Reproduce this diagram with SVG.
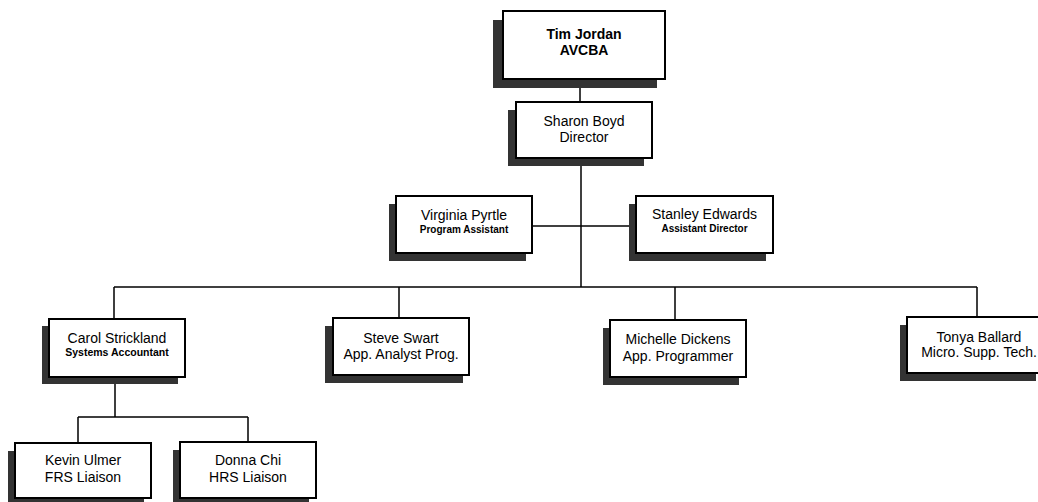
<svg xmlns="http://www.w3.org/2000/svg" width="1038" height="502" viewBox="0 0 1038 502">
<style>
.bg{fill:#fff}
.sh{fill:#333}
.bx{fill:#fff;stroke:#000;stroke-width:2}
.c{stroke:#000;stroke-width:1.5;fill:none}
text{font-family:"Liberation Sans",Arial,sans-serif;fill:#000;text-anchor:middle}
.n{font-size:14px}
.b{font-size:14px;font-weight:bold}
.s{font-size:10px;font-weight:bold}
</style>
<rect class="bg" x="0" y="0" width="1038" height="502"/>
<g id="connectors">
<path class="c" d="M580 79V102"/>
<path class="c" d="M581 158V287"/>
<path class="c" d="M532 226H636"/>
<path class="c" d="M114 287H977"/>
<path class="c" d="M114 287V319M399 287V318M675 287V320M977 287V317"/>
<path class="c" d="M115 377V417M78 417H248M78 417V443M248 417V442"/>
</g>
<g id="tim">
<rect class="sh" x="493" y="20" width="164" height="68"/>
<rect class="bx" x="503" y="11" width="162" height="68"/>
<text class="b" x="584" y="39">Tim Jordan</text>
<text class="b" x="584" y="55">AVCBA</text>
</g>
<g id="sharon">
<rect class="sh" x="508" y="110" width="136" height="56"/>
<rect class="bx" x="516" y="102" width="136" height="56"/>
<text class="n" x="584" y="126">Sharon Boyd</text>
<text class="n" x="584" y="142">Director</text>
</g>
<g id="virginia">
<rect class="sh" x="389" y="204" width="137" height="57"/>
<rect class="bx" x="396" y="196" width="136" height="57"/>
<text class="n" x="464" y="220">Virginia Pyrtle</text>
<text class="s" x="464" y="233">Program Assistant</text>
</g>
<g id="stanley">
<rect class="sh" x="629" y="204" width="137" height="57"/>
<rect class="bx" x="636" y="196" width="137" height="57"/>
<text class="n" x="704.5" y="219">Stanley Edwards</text>
<text class="s" x="704.5" y="232">Assistant Director</text>
</g>
<g id="carol">
<rect class="sh" x="42" y="326" width="136" height="58"/>
<rect class="bx" x="49" y="319" width="136" height="58"/>
<text class="n" x="117" y="343">Carol Strickland</text>
<text class="s" x="117" y="356" style="font-size:10.5px">Systems Accountant</text>
</g>
<g id="steve">
<rect class="sh" x="325" y="326" width="138" height="57"/>
<rect class="bx" x="333" y="318" width="136" height="57"/>
<text class="n" x="401" y="343">Steve Swart</text>
<text class="n" x="401" y="359">App. Analyst Prog.</text>
</g>
<g id="michelle">
<rect class="sh" x="603" y="328" width="136" height="57"/>
<rect class="bx" x="610" y="320" width="136" height="57"/>
<text class="n" x="678" y="344">Michelle Dickens</text>
<text class="n" x="678" y="361">App. Programmer</text>
</g>
<g id="tonya">
<rect class="sh" x="900" y="325" width="136" height="56"/>
<rect class="bx" x="907" y="317" width="136" height="56"/>
<text class="n" x="979" y="342">Tonya Ballard</text>
<text class="n" x="979" y="357">Micro. Supp. Tech.</text>
</g>
<g id="kevin">
<rect class="sh" x="8" y="451" width="136" height="55"/>
<rect class="bx" x="15" y="443" width="136" height="55"/>
<text class="n" x="83" y="465">Kevin Ulmer</text>
<text class="n" x="83" y="482">FRS Liaison</text>
</g>
<g id="donna">
<rect class="sh" x="173" y="450" width="136" height="56"/>
<rect class="bx" x="180" y="442" width="136" height="56"/>
<text class="n" x="248" y="465">Donna Chi</text>
<text class="n" x="248" y="482">HRS Liaison</text>
</g>
</svg>
